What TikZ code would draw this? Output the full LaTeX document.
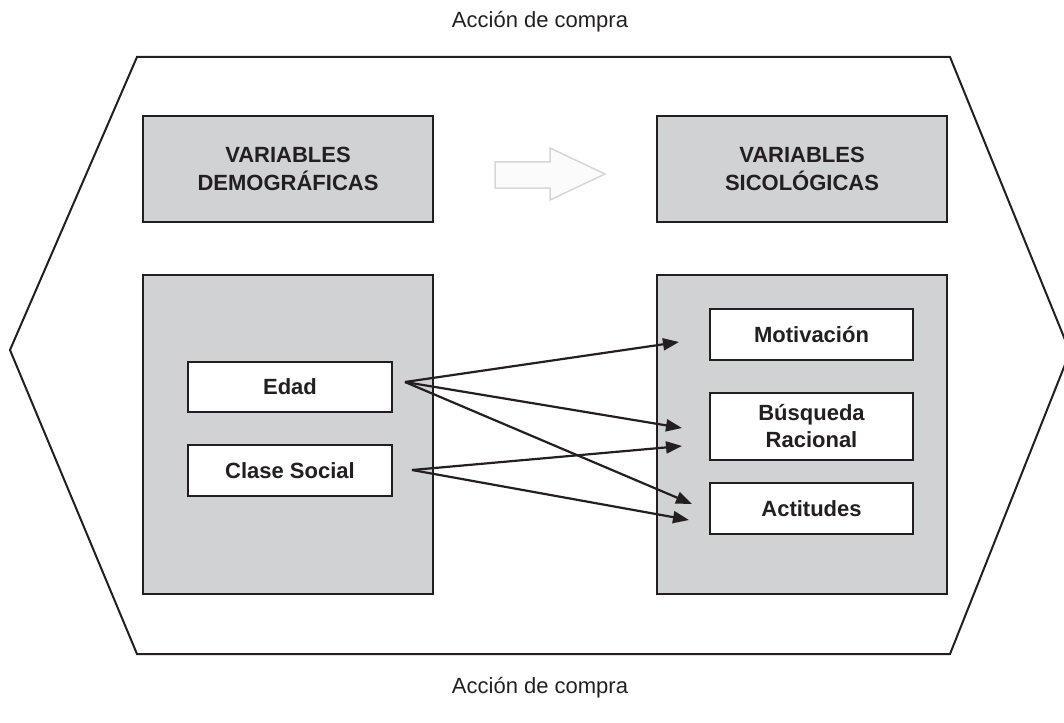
\documentclass[tikz,border=0pt]{standalone}
\usepackage{fontspec}
\setmainfont{Liberation Sans}
\usetikzlibrary{arrows.meta}
\definecolor{ink}{HTML}{231F20}
\definecolor{panel}{HTML}{D1D2D4}
\definecolor{hollowline}{HTML}{D6D6D6}
\definecolor{hollowfill}{HTML}{FBFBFB}
\tikzset{
  graybox/.style={draw=ink, line width=2.5pt, fill=panel, minimum width=290pt, inner sep=0pt, align=center,
    font=\fontsize{22}{28}\selectfont\bfseries, text=ink},
  whitebox/.style={draw=ink, line width=2.5pt, fill=white, minimum width=203pt, inner sep=0pt, align=center,
    font=\fontsize{22}{27}\selectfont\bfseries, text=ink},
  title/.style={font=\fontsize{22}{26}\selectfont, text=ink, anchor=base},
  link/.style={draw=ink, line width=2.2pt, -{Triangle[length=16pt,width=12pt]}}
}
\begin{document}
\begin{tikzpicture}[x=1pt, y=-1pt]
\useasboundingbox (0,0) rectangle (1064,722);
% outer hexagon
\draw[ink, line width=2pt, line join=miter] (137,57) -- (950,57) -- (1070,352) -- (950,654) -- (137,654) -- (10,350) -- cycle;
% titles
\node[title] (ttop) at (540,28) {Acción de compra};
\node[title] (tbot) at (540,693) {Acción de compra};
% top boxes
\node[graybox, minimum height=106pt] (demo) at (288,169) {VARIABLES\\DEMOGRÁFICAS};
\node[graybox, minimum height=106pt] (sico) at (802,169) {VARIABLES\\SICOLÓGICAS};
% hollow arrow
\draw[hollowline, fill=hollowfill, line width=1.5pt, line join=miter]
  (495,162) -- (550,162) -- (550,148) -- (605,174) -- (550,200) -- (550,188) -- (495,188) -- cycle;
% lower panels
\node[graybox, minimum height=319pt] (left) at (288,434.5) {};
\node[graybox, minimum height=319pt] (right) at (802,434.5) {};
% inner boxes
\node[whitebox, minimum width=204pt, minimum height=50pt] (edad) at (290,387) {Edad};
\node[whitebox, minimum width=204pt, minimum height=51pt] (clase) at (290,470.5) {Clase Social};
\node[whitebox, minimum height=51pt] (moti) at (811.5,334.5) {Motivación};
\node[whitebox, minimum height=67pt] (busq) at (811.5,426.5) {Búsqueda\\Racional};
\node[whitebox, minimum height=51pt] (acti) at (811.5,508.5) {Actitudes};
% connector ends
\coordinate (eo) at (405,382);
\coordinate (co) at (412,470);
\coordinate (m1) at (679,342);
\coordinate (b1) at (682,428);
\coordinate (b2) at (682,446);
\coordinate (a1) at (692,504);
\coordinate (a2) at (689,520);
\draw[link] (eo) -- (m1);
\draw[link] (eo) -- (b1);
\draw[link] (eo) -- (a1);
\draw[link] (co) -- (b2);
\draw[link] (co) -- (a2);
\end{tikzpicture}
\end{document}
